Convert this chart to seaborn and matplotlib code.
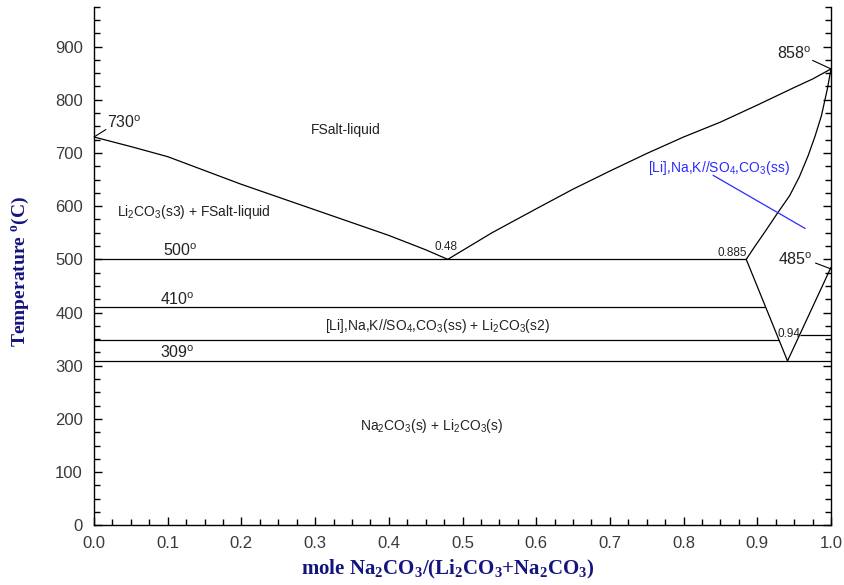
import matplotlib
matplotlib.use("Agg")
import matplotlib.pyplot as plt
from matplotlib.ticker import MultipleLocator, FormatStrFormatter
import seaborn as sns

# Li2CO3-side liquidus (730 -> eutectic at 0.48)
liq_left_x = [0.0, 0.05, 0.1, 0.15, 0.2, 0.25, 0.3, 0.35, 0.4, 0.45, 0.48]
liq_left_t = [730, 712, 693, 667, 641, 617, 593, 569, 545, 518, 500]

# Na2CO3-side liquidus (eutectic -> 858)
liq_right_x = [0.48, 0.54, 0.6, 0.65, 0.7, 0.75, 0.8, 0.85, 0.9, 0.95, 0.975, 1.0]
liq_right_t = [500, 550, 595, 632, 666, 699, 730, 758, 790, 823, 839, 858]

# solidus of the (ss) phase
ss_x = [1.0, 0.995, 0.987, 0.978, 0.969, 0.957, 0.944, 0.926, 0.91, 0.897, 0.885]
ss_t = [858, 820, 770, 730, 695, 655, 620, 584, 551, 525, 500]

# V-shaped solvus below the peritectic
solvus_x = [0.885, 0.941, 1.0]
solvus_t = [500, 309, 485]

# horizontal invariants: temperature, from x, to x
inv_t = [500, 410, 349, 358, 309]
inv_x0 = [0.0, 0.0, 0.0, 0.958, 0.0]
inv_x1 = [0.885, 0.911, 0.930, 1.0, 1.0]

# pointer for the blue (ss) label
ptr_x = [0.84, 0.965]
ptr_t = [658, 558]

sns.set_theme(style="ticks")
plt.rcParams["font.family"] = ["Liberation Sans", "DejaVu Sans"]
plt.rcParams["mathtext.fontset"] = "custom"
plt.rcParams["mathtext.rm"] = "Liberation Sans"
plt.rcParams["mathtext.it"] = "Liberation Sans"
plt.rcParams["mathtext.bf"] = "Liberation Serif:bold"

fig = plt.figure(figsize=(8.44, 5.85), dpi=100)
ax = fig.add_axes([0.1114, 0.102, 0.8732, 0.8866])

lc = "black"
lw = 0.9
sns.lineplot(x=liq_left_x, y=liq_left_t, sort=False, estimator=None, color=lc, lw=lw, ax=ax)
sns.lineplot(x=liq_right_x, y=liq_right_t, sort=False, estimator=None, color=lc, lw=lw, ax=ax)
sns.lineplot(x=ss_x, y=ss_t, sort=False, estimator=None, color=lc, lw=lw, ax=ax)
sns.lineplot(x=solvus_x, y=solvus_t, sort=False, estimator=None, color=lc, lw=lw, ax=ax)
ax.hlines(inv_t, inv_x0, inv_x1, color=lc, lw=lw)
sns.lineplot(x=ptr_x, y=ptr_t, sort=False, estimator=None, color="#2a2aff", lw=lw, ax=ax)

ax.set_xlim(0, 1)
ax.set_ylim(0, 975)
ax.xaxis.set_major_locator(MultipleLocator(0.1))
ax.xaxis.set_minor_locator(MultipleLocator(0.025))
ax.xaxis.set_major_formatter(FormatStrFormatter("%.1f"))
ax.yaxis.set_minor_locator(MultipleLocator(25))
ax.set_yticks(range(0, 901, 100))
ax.tick_params(which="both", direction="in", right=True, top=False,
               colors="black", labelcolor="#3a3a3a", width=1)
ax.tick_params(which="major", length=6, labelsize=12, pad=8)
ax.tick_params(which="minor", length=4)
ax.spines["top"].set_visible(False)
for s in ["left", "right", "bottom"]:
    ax.spines[s].set_color("black")
    ax.spines[s].set_linewidth(1)

navy = "#14147f"
ax.set_xlabel(r"mole Na$_{\mathbf{2}}$CO$_{\mathbf{3}}$/(Li$_{\mathbf{2}}$CO$_{\mathbf{3}}$+Na$_{\mathbf{2}}$CO$_{\mathbf{3}}$)",
              family="Liberation Serif", fontweight="bold", fontsize=15, color=navy)
ax.xaxis.set_label_coords(0.48, -0.063)
ax.set_ylabel(r"Temperature $^{\mathbf{o}}$(C)", family="Liberation Serif",
              fontweight="bold", fontsize=14, color=navy)
ax.yaxis.set_label_coords(-0.085, 0.49)

tc = "#222222"
deg = r"$^{\mathrm{o}}$"
for val, x, t in [(730, 0.017, 746), (500, 0.094, 506), (410, 0.089, 414),
                  (309, 0.090, 314), (858, 0.927, 876), (485, 0.928, 490)]:
    ax.text(x, t, f"{val}{deg}", fontsize=11.5, color=tc, ha="left", va="baseline")

ax.annotate("", xy=(0.0, 730), xytext=(0.016, 744),
            arrowprops=dict(arrowstyle="-", color=lc, lw=0.8, shrinkA=0, shrinkB=0))
ax.annotate("", xy=(1.0, 858), xytext=(0.975, 874),
            arrowprops=dict(arrowstyle="-", color=lc, lw=0.8, shrinkA=0, shrinkB=0))
ax.annotate("", xy=(1.0, 482), xytext=(0.979, 493),
            arrowprops=dict(arrowstyle="-", color=lc, lw=0.8, shrinkA=0, shrinkB=0))

ax.text(0.477, 517, "0.48", fontsize=8.5, color=tc, ha="center", va="baseline")
ax.text(0.886, 506, "0.885", fontsize=8.5, color=tc, ha="right", va="baseline")
ax.text(0.928, 354, "0.94", fontsize=8.5, color=tc, ha="left", va="baseline")

sub = lambda s: r"$_{\mathrm{" + s + "}}$"
ax.text(0.341, 743, "FSalt-liquid", fontsize=10, color=tc, ha="center", va="center")
ax.text(0.031, 589, f"Li{sub('2')}CO{sub('3')}(s3) + FSalt-liquid", fontsize=10,
        color=tc, ha="left", va="center")
ax.text(0.313, 367, f"[Li],Na,K//SO{sub('4')},CO{sub('3')}(ss) + Li{sub('2')}CO{sub('3')}(s2)",
        fontsize=10, color=tc, ha="left", va="baseline")
ax.text(0.361, 179, f"Na{sub('2')}CO{sub('3')}(s) + Li{sub('2')}CO{sub('3')}(s)",
        fontsize=10, color=tc, ha="left", va="baseline")
ax.text(0.752, 665, f"[Li],Na,K//SO{sub('4')},CO{sub('3')}(ss)", fontsize=10,
        color="#2a2aff", ha="left", va="baseline")

fig.savefig("out.png", dpi=100)
